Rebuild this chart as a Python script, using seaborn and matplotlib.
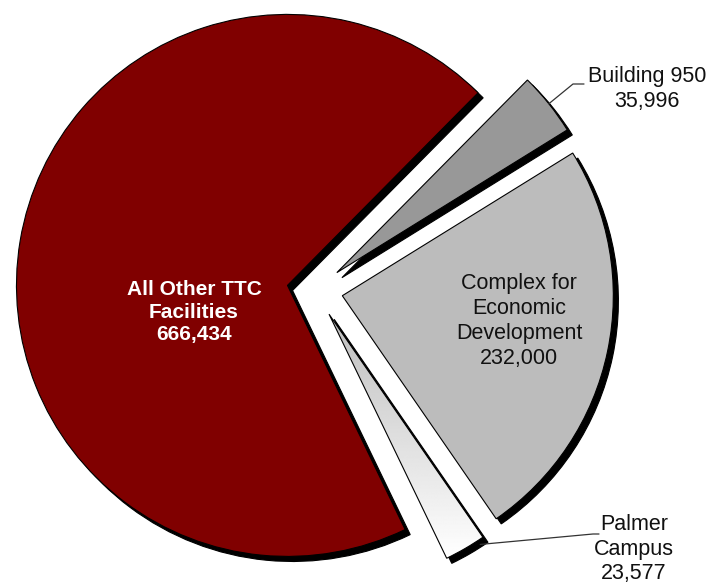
import numpy as np
import matplotlib
matplotlib.use("Agg")
import matplotlib.pyplot as plt
import seaborn as sns
from matplotlib import font_manager

# ---- data ----
categories = ["All Other TTC\nFacilities", "Palmer\nCampus",
              "Complex for\nEconomic\nDevelopment", "Building 950"]
values = [666434, 23577, 232000, 35996]
colors = ["#800000", "#dcdcdc", "#bcbcbc", "#989898"]
explode = [0.103, 0.103, 0.103, 0.103]

sns.set_theme(style="white")
names = {f.name for f in font_manager.fontManager.ttflist}
fam = "Liberation Sans" if "Liberation Sans" in names else "DejaVu Sans"
plt.rcParams["font.family"] = [fam, "DejaVu Sans"]

W, H = 714, 587
R = 271.0
CX, CY = 315.0, 290.0


def px(x, y):
    return ((x - CX) / R, (CY - y) / R)


fig = plt.figure(figsize=(W / 100, H / 100), dpi=100)
ax = fig.add_axes([0, 0, 1, 1])

wedges, _ = ax.pie(
    values, explode=explode, startangle=45.3, counterclock=True,
    colors=colors, radius=1.0,
    wedgeprops=dict(edgecolor="black", linewidth=0.8),
    shadow=dict(ox=0.0135, oy=-0.0135, facecolor="black", edgecolor="black", alpha=1.0),
)

# vertical gradient on the Palmer slice (grey near the tip, white at the rim)
pw = wedges[1]
pw.set_zorder(3)
pw.set_facecolor("none")
theta = np.radians([pw.theta1, pw.theta2])
cx0, cy0 = pw.center
xs = [cx0, cx0 + np.cos(theta[0]), cx0 + np.cos(theta[1])]
ys = [cy0, cy0 + np.sin(theta[0]), cy0 + np.sin(theta[1])]
grad = np.linspace(1.0, 0.74, 256).reshape(-1, 1)
img = ax.imshow(grad, cmap="gray", vmin=0, vmax=1, aspect="auto",
                extent=[min(xs), max(xs), min(ys), max(ys)], zorder=2,
                origin="lower", interpolation="bilinear")
img.set_clip_path(pw)

ax.set_xlim(-CX / R, (W - CX) / R)
ax.set_ylim(-(H - CY) / R, CY / R)
ax.set_aspect("equal")
ax.axis("off")

fs = 15.5
ls = 1.25
# inside labels
ax.text(*px(194, 312), f"{categories[0]}\n{values[0]:,}", ha="center", va="center",
        color="white", fontsize=15, fontweight="bold", linespacing=ls, zorder=5)
ax.text(*px(519, 321), f"{categories[2]}\n{values[2]:,}", ha="center", va="center",
        color="#111111", fontsize=fs, linespacing=ls, zorder=5)

# outside labels with leader lines
def arc_point(w, ang):
    c = w.center
    a = np.radians(ang)
    return (c[0] + w.r * np.cos(a), c[1] + w.r * np.sin(a))

bw = wedges[3]
p0 = arc_point(bw, (bw.theta1 + bw.theta2) / 2)
p1 = px(573, 84)
p2 = px(584, 84)
ax.plot([p0[0], p1[0], p2[0]], [p0[1], p1[1], p2[1]], color="#333333", lw=0.9, zorder=6)
ax.text(*px(647, 89), f"{categories[3]}\n{values[3]:,}", ha="center", va="center",
        color="#111111", fontsize=fs, linespacing=ls, zorder=5)

p0 = arc_point(pw, pw.theta2 - 1.5)
p0 = (p0[0] + 0.012, p0[1] - 0.012)
p1 = px(593, 534)
p2 = px(599, 534)
ax.plot([p0[0], p1[0], p2[0]], [p0[1], p1[1], p2[1]], color="#333333", lw=0.9, zorder=6)
ax.text(*px(634, 549), f"{categories[1]}\n{values[1]:,}", ha="center", va="center",
        color="#111111", fontsize=fs, linespacing=1.2, zorder=5)

fig.savefig("out.png", dpi=100, facecolor="white")
